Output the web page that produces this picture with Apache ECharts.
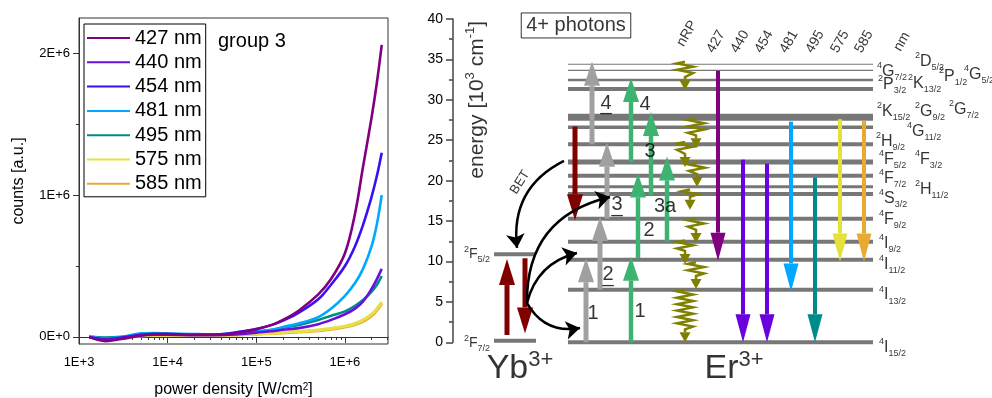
<!DOCTYPE html>
<html><head><meta charset="utf-8">
<script src="https://cdn.jsdelivr.net/npm/echarts@6/dist/echarts.min.js"></script>
<style>html,body{margin:0;padding:0;background:#fff}#c{width:992px;height:398px}</style>
</head><body><div id="c"></div>
<script>
const FONT = '"Liberation Sans", Arial, sans-serif';

// ---------- left panel data ----------
const powerDensity = [1.3e3, 2e3, 3e3, 5e3, 7e3, 1e4, 2e4, 3e4, 5e4, 7e4, 1e5, 1.5e5, 2e5, 3e5, 5e5, 7e5, 1e6, 1.3e6, 1.6e6, 2e6, 2.3e6, 2.6e6];
const seriesNames = ['427 nm', '440 nm', '454 nm', '481 nm', '495 nm', '575 nm', '585 nm'];
const counts427 = [0, -30000, -15000, 10000, 20000, 20000, 15000, 15000, 20000, 35000, 55000, 85000, 120000, 185000, 300000, 410000, 590000, 870000, 1200000, 1550000, 1800000, 2060000];
const counts440 = [0, -20000, -10000, 10000, 15000, 15000, 12000, 12000, 15000, 20000, 30000, 40000, 50000, 62000, 90000, 120000, 160000, 200000, 250000, 340000, 410000, 480000];
const counts454 = [0, -15000, -5000, 15000, 20000, 20000, 15000, 15000, 25000, 40000, 55000, 85000, 115000, 170000, 265000, 370000, 500000, 640000, 790000, 990000, 1140000, 1300000];
const counts481 = [0, -10000, 0, 25000, 28000, 25000, 20000, 18000, 22000, 30000, 40000, 50000, 70000, 95000, 140000, 200000, 290000, 380000, 480000, 640000, 800000, 1000000];
const counts495 = [0, -5000, 0, 15000, 20000, 20000, 15000, 15000, 20000, 28000, 35000, 50000, 65000, 85000, 120000, 150000, 180000, 220000, 260000, 320000, 370000, 430000];
const counts575 = [0, -10000, -5000, 8000, 12000, 12000, 12000, 12000, 15000, 18000, 22000, 27000, 32000, 38000, 48000, 60000, 75000, 95000, 120000, 160000, 200000, 245000];
const counts585 = [0, -10000, -5000, 8000, 12000, 12000, 12000, 12000, 14000, 16000, 20000, 25000, 29000, 35000, 44000, 55000, 70000, 88000, 110000, 150000, 190000, 235000];
const allCounts = [counts427, counts440, counts454, counts481, counts495, counts575, counts585];
const lineColors = ['#800080', '#6a10dc', '#3a10f2', '#00a8ff', '#008b8b', '#e6e045', '#e8a93a'];
const xMajorTicks = [1e3, 1e4, 1e5, 1e6];
const xMinorTicks = [2e3,3e3,4e3,5e3,6e3,7e3,8e3,9e3,2e4,3e4,4e4,5e4,6e4,7e4,8e4,9e4,2e5,3e5,4e5,5e5,6e5,7e5,8e5,9e5,2e6,3e6];
const yMajorTicks = [0, 1e6, 2e6];
const yMinorTicks = [5e5, 1.5e6];

// ---------- right panel data (energies in 10^3 cm^-1) ----------
const erLevels = [0, 6.5, 10.2, 12.45, 15.3, 18.35, 19.25, 20.6, 22.3, 24.5, 26.6, 27.85, 31.35, 32.45, 33.65, 34.4];
const ybLevels = [0.2, 10.9];
const grayFrom = [0, 6.5, 15.3, 24.5];
const grayTo = [10.4, 15.5, 24.7, 34.7];
const greenFrom = [0, 10.4, 18.2, 12.45, 22.3];
const greenTo = [10.6, 20.9, 28.5, 23.0, 32.7];
const redFrom = [0.9, 10.4, 26.7];
const redTo = [10.3, 1.1, 15.1];
const nrpFrom = [34.7, 27.7, 24.8, 22.2, 18.9, 15.3, 12.6, 9.9, 6.5];
const nrpTo = [31.2, 24.0, 21.7, 19.2, 16.4, 12.3, 9.7, 6.6, 0];
const emissionNm = ['427', '440', '454', '481', '495', '575', '585'];
const emissionFrom = [33.6, 22.6, 22.1, 27.3, 20.4, 27.6, 27.4];
const emissionTo = [10.1, 0, 0, 6.3, 0, 10.0, 10.0];
const transferFrom = [[564, 22.44], [527, 4.86], [527, 4.86], [527, 4.86]];
const transferTo = [[517, 11.67], [610, 17.98], [577, 11.05], [580, 1.77]];
const stepLabels = ['1', '1', '2', '2', '3', '3a', '3', '4', '4'];
const stepUnderlined = [false, false, true, false, true, false, false, true, false];
const termLabels = ['{s|2}{m|D}{b|5/2}','{s|4}{m|G}{b|7/2}','{s|2}{m|P}{b|3/2}','{s|2}{m|K}{b|13/2}','{s|2}{m|P}{b|1/2}','{s|4}{m|G}{b|5/2}',
  '{s|2}{m|K}{b|15/2}','{s|2}{m|G}{b|9/2}','{s|2}{m|G}{b|7/2}','{s|4}{m|G}{b|11/2}','{s|2}{m|H}{b|9/2}','{s|4}{m|F}{b|5/2}','{s|4}{m|F}{b|3/2}',
  '{s|4}{m|F}{b|7/2}','{s|2}{m|H}{b|11/2}','{s|4}{m|S}{b|3/2}','{s|4}{m|F}{b|9/2}','{s|4}{m|I}{b|9/2}','{s|4}{m|I}{b|11/2}','{s|4}{m|I}{b|13/2}','{s|4}{m|I}{b|15/2}'];
const termE = [34.73, 33.49, 31.84, 32.05, 32.87, 33.08, 28.54, 28.54, 28.75, 26.06, 24.83, 22.56, 22.56, 20.30, 18.85, 17.82, 15.14, 12.25, 9.57, 5.85, -0.7];

// ---------- layout (schematic columns, in panel x units) ----------
const ER_X = [568, 873], YB_X = [494, 536];
const grayCols = [586, 600, 607, 592];
const greenCols = [631, 638, 651, 667, 631];
const redCols = [507, 525, 575];
const nrpCols = [685, 696, 685, 697, 690, 696, 685, 696, 685];
const emissionCols = [718, 743, 767, 791, 815, 840, 864];
const emissionColors = ['#800080', '#6a00dd', '#6a00dd', '#00a8ff', '#008b8b', '#e6e03a', '#e8aa30'];
const erLevelWidths = [4, 4, 4, 4, 4, 4, 3, 4, 5, 4, 3.5, 7, 4, 2.5, 1.2, 1.2];
const transferBend = [-0.35, 0.4, 0.3, -0.35];
const stepX = [593, 640, 608, 649, 617, 665, 650, 606, 645];
const stepE = [3.59, 3.79, 8.33, 13.81, 16.99, 16.78, 23.59, 29.58, 29.37];
const termX = [915, 877, 878, 908, 939, 964, 877, 915, 949, 907, 876, 879, 915, 879, 915, 879, 879, 879, 879, 879, 879];
const headerX = [687, 716, 740, 764, 789, 815, 840, 864, 902];

function arrowRender(colors, shaft, headW, headL) {
  return function (params, api) {
    const x = api.value(0), f = api.value(1), t = api.value(2);
    const p1 = api.coord([x, f]), p2 = api.coord([x, t]);
    const dir = p2[1] > p1[1] ? 1 : -1;
    const baseY = p2[1] - dir * headL;
    const color = Array.isArray(colors) ? colors[params.dataIndex] : colors;
    return { type: 'group', children: [
      { type: 'rect', shape: { x: p1[0] - shaft / 2, y: Math.min(p1[1], baseY), width: shaft, height: Math.abs(baseY - p1[1]) }, style: { fill: color } },
      { type: 'polygon', shape: { points: [[p2[0] - headW / 2, baseY], [p2[0] + headW / 2, baseY], [p2[0], p2[1]]] }, style: { fill: color } }
    ] };
  };
}
function wavyRender(params, api) {
  const x = api.value(0), f = api.value(1), t = api.value(2);
  const p1 = api.coord([x, f]), p2 = api.coord([x, t]);
  const headL = 10, headW = 11, amp = 8, step = 3.2;
  const zEnd = p2[1] - headL - 3;
  const pts = [[p1[0], p1[1]]];
  let y = p1[1] + step / 2, side = -1;
  while (y < zEnd - step / 2) { pts.push([p1[0] + side * amp, y]); side = -side; y += step; }
  pts.push([p1[0], zEnd]); pts.push([p1[0], p2[1] - headL]);
  const c = '#808000';
  return { type: 'group', children: [
    { type: 'polyline', shape: { points: pts }, style: { stroke: c, lineWidth: 2.5, fill: null } },
    { type: 'polygon', shape: { points: [[p2[0] - headW / 2, p2[1] - headL], [p2[0] + headW / 2, p2[1] - headL], [p2[0], p2[1]]] }, style: { fill: c } }
  ] };
}
function levelRender(x0, x1, widths, color) {
  return function (params, api) {
    const e = api.value(1);
    const a = api.coord([x0, e]), b = api.coord([x1, e]);
    const w = Array.isArray(widths) ? widths[params.dataIndex] : widths;
    return { type: 'line', shape: { x1: a[0], y1: a[1], x2: b[0], y2: b[1] }, style: { stroke: color, lineWidth: w } };
  };
}

const termRich = {
  s: { fontSize: 9, verticalAlign: 'top', fontFamily: FONT, color: '#000' },
  m: { fontSize: 16, lineHeight: 21, fontFamily: FONT, color: '#000' },
  b: { fontSize: 9, verticalAlign: 'bottom', fontFamily: FONT, color: '#000' }
};
const ybRich = {
  s: { fontSize: 9, verticalAlign: 'top', fontFamily: FONT, color: '#000' },
  m: { fontSize: 14, lineHeight: 19, fontFamily: FONT, color: '#000' },
  b: { fontSize: 9, verticalAlign: 'bottom', fontFamily: FONT, color: '#000' }
};
const bigRich = {
  m: { fontSize: 34, lineHeight: 40, fontFamily: FONT, color: '#000' },
  s: { fontSize: 22, verticalAlign: 'top', fontFamily: FONT, color: '#000' }
};
const nameRich = {
  m: { fontSize: 21, lineHeight: 26, fontFamily: FONT, color: '#000' },
  s: { fontSize: 13, verticalAlign: 'top', fontFamily: FONT, color: '#000' }
};

function txt(x, e, formatter, opts) {
  return { value: [x, e], label: Object.assign({ show: true, formatter: formatter, position: [0, 0], align: 'center', verticalAlign: 'middle', fontFamily: FONT, color: '#000' }, opts || {}) };
}
const textData = [];
termLabels.forEach((t, i) => textData.push(txt(termX[i], termE[i], t, { align: 'left', rich: termRich })));
stepLabels.forEach((t, i) => {
  textData.push(txt(stepX[i], stepE[i], t, { fontSize: 20 }));
  if (stepUnderlined[i]) textData.push(txt(stepX[i], stepE[i] - 0.2, '_', { fontSize: 20 }));
});
const headers = ['nRP'].concat(emissionNm).concat(['nm']);
headers.forEach((t, i) => textData.push(txt(headerX[i], i === 0 ? 38.2 : 37.2, t, { fontSize: 14, rotate: 60 })));
textData.push(txt(490, 10.9, '{s|2}{m|F}{b|5/2}', { align: 'right', rich: ybRich }));
textData.push(txt(490, -0.1, '{s|2}{m|F}{b|7/2}', { align: 'right', rich: ybRich }));
textData.push(txt(520, -3.3, '{m|Yb}{s|3+}', { rich: bigRich }));
textData.push(txt(734, -3.3, '{m|Er}{s|3+}', { rich: bigRich }));
textData.push(txt(477, 30.0, '{m|energy [10}{s|3}{m| cm}{s|-1}{m|]}', { rotate: 90, rich: nameRich }));
textData.push(txt(520, 19.8, 'BET', { fontSize: 13, rotate: 58 }));
textData.push(txt(576, 39.2, '4+ photons', { fontSize: 20, borderColor: '#000', borderWidth: 1, padding: [3, 5, 2, 5] }));

const series = [];
allCounts.forEach((arr, i) => series.push({
  name: seriesNames[i], type: 'line', xAxisIndex: 0, yAxisIndex: 0, smooth: 0.35, symbol: 'none',
  lineStyle: { width: i >= 5 ? 3.2 : 2.6, color: lineColors[i] }, itemStyle: { color: lineColors[i] },
  data: powerDensity.map((x, j) => [x, arr[j]]), z: 3 + (6 - i)
}));
const rp = { coordinateSystem: 'cartesian2d', xAxisIndex: 2, yAxisIndex: 2, silent: true, clip: false };
series.push(Object.assign({ type: 'custom', renderItem: levelRender(ER_X[0], ER_X[1], erLevelWidths, '#777'), data: erLevels.map(e => [ER_X[0], e]), z: 1 }, rp));
series.push(Object.assign({ type: 'custom', renderItem: levelRender(YB_X[0], YB_X[1], 4, '#777'), data: ybLevels.map(e => [YB_X[0], e]), z: 1 }, rp));
series.push(Object.assign({ type: 'custom', renderItem: arrowRender('#a0a0a0', 5, 16, 24), data: grayCols.map((c, i) => [c, grayFrom[i], grayTo[i]]), z: 3 }, rp));
series.push(Object.assign({ type: 'custom', renderItem: arrowRender('#3cb371', 4.5, 16, 24), data: greenCols.map((c, i) => [c, greenFrom[i], greenTo[i]]), z: 3 }, rp));
series.push(Object.assign({ type: 'custom', renderItem: arrowRender('#800000', 5, 16, 26), data: redCols.map((c, i) => [c, redFrom[i], redTo[i]]), z: 3 }, rp));
series.push(Object.assign({ type: 'custom', renderItem: arrowRender(emissionColors, 4, 15, 28), data: emissionCols.map((c, i) => [c, emissionFrom[i], emissionTo[i]]), z: 3 }, rp));
series.push(Object.assign({ type: 'custom', renderItem: wavyRender, data: nrpCols.map((c, i) => [c, nrpFrom[i], nrpTo[i]]), z: 3 }, rp));
series.push(Object.assign({ type: 'lines', symbol: ['none', 'arrow'], symbolSize: 14, lineStyle: { color: '#000', width: 2.5, opacity: 1 },
  data: transferFrom.map((s, i) => ({ coords: [s, transferTo[i]], lineStyle: { curveness: transferBend[i] } })), z: 4 }, rp));
series.push(Object.assign({ type: 'scatter', symbolSize: 0, data: textData, z: 5 }, rp));

const axisColor = '#333';
const option = {
  animation: false,
  textStyle: { fontFamily: FONT },
  grid: [
    { left: 79, right: 604, top: 18, bottom: 54, show: true, borderColor: axisColor, borderWidth: 1, outerBoundsMode: 'none', containLabel: false },
    { left: 453, right: 0, top: 19, bottom: 55.7, outerBoundsMode: 'none', containLabel: false }
  ],
  title: { text: 'group 3', left: 213, top: 26, textStyle: { fontSize: 20, fontWeight: 'normal', color: '#000', fontFamily: FONT } },
  legend: {
    data: seriesNames, orient: 'vertical', left: 84, top: 24, padding: [4, 4, 3, 3], itemGap: 4.3, itemWidth: 43, itemHeight: 14,
    borderColor: '#000', borderWidth: 1, textStyle: { fontSize: 20, lineHeight: 20, color: '#000', fontFamily: FONT },
    icon: 'path://M0,6 L43,6 L43,8 L0,8 Z'
  },
  xAxis: [
    { type: 'log', gridIndex: 0, min: 1000, max: 3.06e6, position: 'bottom',
      name: 'power density [W/cm{s|2}]', nameLocation: 'middle', nameGap: 38,
      nameTextStyle: { fontSize: 16, color: '#000', rich: { s: { fontSize: 10, verticalAlign: 'top' } } },
      axisLine: { lineStyle: { color: axisColor } }, splitLine: { show: false },
      axisTick: { customValues: xMajorTicks, length: 6, lineStyle: { color: axisColor } },
      axisLabel: { customValues: xMajorTicks, fontSize: 13, color: '#000', margin: 12, formatter: v => '1E+' + Math.round(Math.log10(v)) } },
    { type: 'log', gridIndex: 0, min: 1000, max: 3.06e6, position: 'bottom', axisLine: { show: false }, splitLine: { show: false },
      axisTick: { customValues: xMinorTicks, length: 3, lineStyle: { color: axisColor } }, axisLabel: { show: false } },
    { type: 'value', gridIndex: 1, min: 453, max: 992, show: false }
  ],
  yAxis: [
    { type: 'value', gridIndex: 0, min: -50000, max: 2250000, position: 'left',
      name: 'counts [a.u.]', nameLocation: 'middle', nameGap: 52, nameTextStyle: { fontSize: 16, color: '#000' },
      axisLine: { show: true, lineStyle: { color: axisColor } }, splitLine: { show: false },
      axisTick: { show: true, customValues: yMajorTicks, length: 6, lineStyle: { color: axisColor } },
      axisLabel: { customValues: yMajorTicks, fontSize: 13, color: '#000', margin: 9, formatter: v => v === 0 ? '0E+0' : Math.round(v / 1e6) + 'E+6' } },
    { type: 'value', gridIndex: 0, min: -50000, max: 2250000, position: 'left', axisLine: { show: false }, splitLine: { show: false },
      axisTick: { show: true, customValues: yMinorTicks, length: 3, lineStyle: { color: axisColor } }, axisLabel: { show: false } },
    { type: 'value', gridIndex: 1, min: 0, max: 40, interval: 5, position: 'left',
      axisLine: { show: true, lineStyle: { color: '#444', width: 1.5 } }, splitLine: { show: false },
      axisTick: { show: true, length: 7, lineStyle: { color: '#444', width: 1.5 } },
      minorTick: { show: true, splitNumber: 2, length: 4, lineStyle: { color: '#444', width: 1.5 } },
      axisLabel: { fontSize: 14, color: '#000', margin: 10 } }
  ],
  series: series
};
const chart = echarts.init(document.getElementById('c'));
chart.setOption(option);
</script></body></html>
